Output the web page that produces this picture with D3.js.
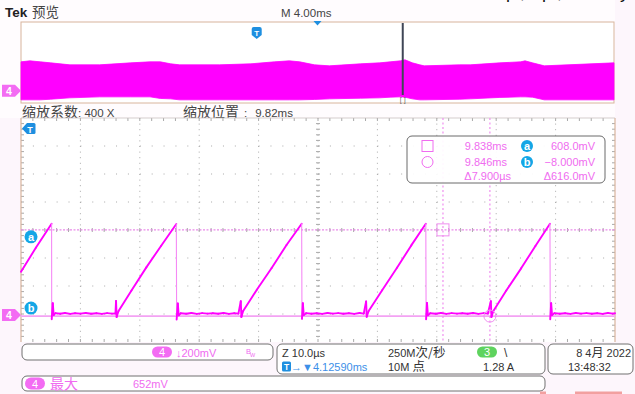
<!DOCTYPE html>
<html><head><meta charset="utf-8">
<script src="https://cdn.jsdelivr.net/npm/d3@7"></script>
<style>body{margin:0;background:#fdf6fc}svg{display:block}</style>
</head><body><svg id="c" width="635" height="394"></svg>
<script>
// ---------- DATA ----------
// Zoomed (main) channel-4 trace: time in µs (0..100 across screen), voltage in mV
const mainTime = [0,2.5,5.15,5.17,5.35,5.5,5.8,6.6,7.4,8.3,9.1,10.0,10.9,11.8,12.7,13.6,14.5,15.3,15.9,16.0,16.1,16.4,18.6,21.1,23.6,26.15,
 26.2,26.4,26.55,26.9,27.8,28.7,29.6,30.5,31.4,32.3,33.2,34.1,35.0,35.9,36.6,37.0,37.1,37.4,39.7,42.2,44.7,47.25,
 47.3,47.45,47.6,48.0,48.9,49.8,50.7,51.6,52.5,53.4,54.3,55.2,56.1,57.0,57.7,58.1,58.2,58.5,60.8,63.3,65.7,68.15,
 68.2,68.35,68.5,68.9,69.8,70.7,71.6,72.5,73.4,74.3,75.2,76.1,77.0,77.9,78.6,79.1,79.2,79.5,81.7,84.2,86.6,89.05,
 89.1,89.25,89.4,89.8,90.7,91.6,92.5,93.4,94.3,95.2,96.1,97.0,97.9,98.8,99.6,100];
const mainVolt = [309,480,652,-30,85,0,13,9,14,8,12,10,14,9,12,8,13,10,11,100,-15,26,175,340,495,650,
 -32,82,-2,12,9,14,8,13,10,12,9,14,8,12,10,98,-14,28,180,335,500,652,
 -28,84,-1,13,9,12,8,14,10,13,9,12,8,14,10,96,-13,26,177,337,497,651,
 -30,86,-2,12,9,14,8,13,10,12,9,14,8,13,10,99,-15,27,175,333,493,652,
 -31,85,-1,13,9,12,8,14,10,13,9,12,8,14,10,12];

// Overview (preview) envelope: time in ms (0..40), top and bottom envelope in mV
const ovTime = [0,0.6,1.3,2.0,3.3,5.3,7.4,8.7,9.4,10.1,10.7,13.4,15.5,17.1,18.1,18.8,19.8,20.8,22.9,24.2,24.9,25.6,25.9,26.4,26.9,27.2,29.6,30.3,32.3,33.7,34.0,34.5,35.3,40];
const ovTop  = [573,593,573,553,514,514,553,573,573,534,514,514,534,573,593,573,514,494,534,553,573,593,613,553,514,494,514,514,553,573,593,553,494,553];
const ovBot  = [-178,-178,-178,-165,-138,-119,-119,-119,-150,-158,-178,-178,-178,-178,-178,-178,-170,-158,-145,-138,-125,-119,-125,-158,-178,-178,-165,-158,-130,-119,-119,-125,-178,-178];

// Cursor readouts
const cursorTimes = [71.04, 78.94];      // µs on main screen
const cursorLevels = [608.0, -8.0];     // mV
const readLeft = ["9.838ms","9.846ms","\u03947.900\u00b5s"];
const readRight = ["608.0mV","\u22128.000mV","\u0394616.0mV"];
const overviewMarks = {trigger:15.9, center:20, zoomPos:25.75}; // ms

// ---------- SETUP ----------
const svg = d3.select("#c");
const FONT = "'Liberation Sans','Noto Sans CJK SC',Arial,sans-serif";
const CJK = "'Noto Sans CJK SC','Liberation Sans',sans-serif";
const PINK = "#f06cf0", MAG = "#ff00ff", BLUE = "#1e8fe0", TAN = "#d8b49c";

svg.append("rect").attr("width",635).attr("height",394).attr("fill","#fdf6fc");
svg.append("rect").attr("x",0).attr("y",0).attr("width",615).attr("height",118).attr("fill","#fffcfe");

// clipped text from above (only descenders visible)
[["p",506],[",",520],["p",542],[",",557],["y",620],["\u2019",390]].forEach(([s,x])=>{
  svg.append("text").attr("x",x).attr("y",-2.5).attr("font-size",18).attr("font-family",FONT).attr("fill","#111").text(s);
});

// header
svg.append("text").attr("x",5).attr("y",17).attr("font-family",FONT).attr("font-weight","bold").attr("font-size",13.5).attr("fill","#222").text("Tek");
svg.append("text").attr("x",32).attr("y",17).attr("font-family",CJK).attr("font-size",13.5).attr("fill","#444").text("预览");
svg.append("text").attr("x",281).attr("y",17).attr("font-family",FONT).attr("font-size",11.5).attr("fill","#444").text("M 4.00ms");

// ---------- OVERVIEW ----------
const ovX = d3.scaleLinear().domain([0,40]).range([21,614]);
const ovY = d3.scaleLinear().domain([-240,1360]).range([103,22]);
svg.append("rect").attr("x",21).attr("y",22).attr("width",593).attr("height",81).attr("fill","#fff").attr("stroke",TAN).attr("stroke-width",1);
const ovData = ovTime.map((t,i)=>({t,top:ovTop[i],bot:ovBot[i]}));
svg.append("path").datum(ovData)
  .attr("d", d3.area().x(d=>ovX(d.t)).y0(d=>ovY(d.bot)).y1(d=>ovY(d.top)))
  .attr("fill",MAG).attr("stroke",MAG).attr("stroke-width",0.8);
// zoom position line
const zx = ovX(overviewMarks.zoomPos);
svg.append("line").attr("x1",zx).attr("x2",zx).attr("y1",23).attr("y2",95).attr("stroke","#3f4656").attr("stroke-width",2);
svg.append("text").attr("x",zx).attr("y",102).attr("text-anchor","middle").attr("font-size",7).attr("font-family",FONT).attr("fill","#666").text("[ ]");
// trigger marker (overview)
const tx = ovX(overviewMarks.trigger);
svg.append("path").attr("d",`M${tx-5},29 q0,-2 2,-2 h6 q2,0 2,2 v6 l-5,4 l-5,-4 z`).attr("fill",BLUE);
svg.append("text").attr("x",tx).attr("y",36).attr("text-anchor","middle").attr("font-size",8).attr("font-weight","bold").attr("font-family",FONT).attr("fill","#fff").text("T");
// center triangle
const cx = ovX(overviewMarks.center);
svg.append("path").attr("d",`M${cx-4},21 h8 l-4,4.5 z`).attr("fill",BLUE);

function chMarker(y){
  svg.append("path").attr("d",`M2,${y-6} h13 l6,6 l-6,6 h-13 z`).attr("fill","#f36cf3");
  svg.append("text").attr("x",9).attr("y",y+3.8).attr("text-anchor","middle").attr("font-size",10.5).attr("font-weight","bold").attr("font-family",FONT).attr("fill","#fff").text("4");
}
chMarker(ovY(0));

// zoom info line
const zt = svg.append("text").attr("x",22).attr("y",117).attr("font-family",CJK).attr("fill","#444");
zt.append("tspan").attr("font-size",14).text("缩放系数");
zt.append("tspan").attr("font-size",11.5).attr("font-family",FONT).text(": 400 X");
const zp = svg.append("text").attr("x",183).attr("y",117).attr("font-family",CJK).attr("fill","#444");
zp.append("tspan").attr("font-size",14).text("缩放位置");
zp.append("tspan").attr("font-size",11.5).attr("font-family",FONT).attr("dx",5).text(":");
zp.append("tspan").attr("font-size",11.5).attr("font-family",FONT).attr("dx",8).text("9.82ms");

// ---------- MAIN GRID ----------
const x = d3.scaleLinear().domain([0,100]).range([21,615]);
const y = d3.scaleLinear().domain([-193,1407]).range([342,118]);
const gx0=21,gx1=615,gy0=118,gy1=342;
svg.append("rect").attr("x",gx0).attr("y",gy0).attr("width",gx1-gx0).attr("height",gy1-gy0).attr("fill","#fff");
const grid = svg.append("g").attr("stroke","#a9a9a9").attr("stroke-width",1);
const divX = d3.range(1,10).map(i=>gx0+(gx1-gx0)*i/10);
const divY = d3.range(1,8).map(j=>gy0+(gy1-gy0)*j/8);
const mx = (gx1-gx0)/50, my=(gy1-gy0)/40;
divX.forEach(px=>grid.append("line").attr("x1",px).attr("x2",px).attr("y1",gy0).attr("y2",gy1).attr("stroke-dasharray",`1,${my-1}`));
divY.forEach(py=>grid.append("line").attr("x1",gx0).attr("x2",gx1).attr("y1",py).attr("y2",py).attr("stroke-dasharray",`1,${mx-1}`));
// minor ticks on centre lines and borders
const cxm=(gx0+gx1)/2, cym=(gy0+gy1)/2;
d3.range(1,50).forEach(k=>{
  const px=gx0+k*mx;
  grid.append("line").attr("x1",px).attr("x2",px).attr("y1",cym-2).attr("y2",cym+2);
  grid.append("line").attr("x1",px).attr("x2",px).attr("y1",gy0).attr("y2",gy0+3);
  grid.append("line").attr("x1",px).attr("x2",px).attr("y1",gy1-3).attr("y2",gy1);
});
d3.range(1,40).forEach(k=>{
  const py=gy0+k*my;
  grid.append("line").attr("x1",cxm-2).attr("x2",cxm+2).attr("y1",py).attr("y2",py);
  grid.append("line").attr("x1",gx0).attr("x2",gx0+3).attr("y1",py).attr("y2",py);
  grid.append("line").attr("x1",gx1-3).attr("x2",gx1).attr("y1",py).attr("y2",py);
});
svg.append("line").attr("x1",gx0).attr("x2",gx0).attr("y1",gy0).attr("y2",gy1).attr("stroke",TAN).attr("stroke-width",1.2);
svg.append("line").attr("x1",gx1).attr("x2",gx1).attr("y1",gy0).attr("y2",gy1).attr("stroke",TAN).attr("stroke-width",1.2);
svg.append("line").attr("x1",gx0).attr("x2",gx1).attr("y1",gy0).attr("y2",gy0).attr("stroke","#c9c0c0").attr("stroke-width",0.8);

// cursors
const ya=y(cursorLevels[0]), yb=y(cursorLevels[1]);
svg.append("line").attr("x1",gx0).attr("x2",gx1).attr("y1",yb).attr("y2",yb).attr("stroke","#f3a2f3").attr("stroke-width",1.6);
svg.append("line").attr("x1",gx0).attr("x2",gx1).attr("y1",ya).attr("y2",ya).attr("stroke","#e98ae9").attr("stroke-width",1.2).attr("stroke-dasharray","2,1.5");
cursorTimes.forEach(t=>{
  svg.append("line").attr("x1",x(t)).attr("x2",x(t)).attr("y1",gy0).attr("y2",gy1).attr("stroke","#f08ef0").attr("stroke-width",1.2).attr("stroke-dasharray","2,2.5");
});

// trace
const pts = mainTime.map((t,i)=>[x(t),y(mainVolt[i])]);
const tr = svg.append("g").attr("stroke-linecap","round");
for(let i=0;i<pts.length-1;i++){
  const fall = mainVolt[i+1]-mainVolt[i] < -300;
  tr.append("line").attr("x1",pts[i][0]).attr("y1",pts[i][1]).attr("x2",pts[i+1][0]).attr("y2",pts[i+1][1])
    .attr("stroke", fall ? "#f58af5" : MAG).attr("stroke-width", fall ? 1.1 : 1.9);
}

// cursor markers
svg.append("rect").attr("x",x(cursorTimes[0])-6).attr("y",ya-6).attr("width",12).attr("height",12).attr("fill","none").attr("stroke","#f08ef0").attr("stroke-width",1);
svg.append("circle").attr("cx",x(cursorTimes[1])).attr("cy",yb).attr("r",6).attr("fill","none").attr("stroke","#f08ef0").attr("stroke-width",1);

function badge(cx0,cy0,ch,r){
  svg.append("circle").attr("cx",cx0).attr("cy",cy0).attr("r",r).attr("fill","#14a6e6");
  svg.append("text").attr("x",cx0).attr("y",cy0+3.8).attr("text-anchor","middle").attr("font-size",11).attr("font-weight","bold").attr("font-family",FONT).attr("fill","#fff").text(ch);
}
badge(31,ya+7,"a",6.5);
badge(31,yb-8,"b",6.5);
chMarker(y(0));

// main trigger marker
svg.append("path").attr("d","M22,128.5 l5,-5.5 h7 q1.5,0 1.5,1.5 v8 q0,1.5 -1.5,1.5 h-7 z").attr("fill",BLUE);
svg.append("text").attr("x",30).attr("y",132.5).attr("text-anchor","middle").attr("font-size",9).attr("font-weight","bold").attr("font-family",FONT).attr("fill","#fff").text("T");

// readout box
svg.append("rect").attr("x",407).attr("y",136).attr("width",198).attr("height",47).attr("rx",5).attr("fill","#fff").attr("fill-opacity",0.92).attr("stroke","#6a6a6a").attr("stroke-width",1);
svg.append("rect").attr("x",422).attr("y",140.5).attr("width",11).attr("height",11).attr("fill","none").attr("stroke",PINK).attr("stroke-width",1);
svg.append("circle").attr("cx",427.5).attr("cy",162).attr("r",5.5).attr("fill","none").attr("stroke",PINK).attr("stroke-width",1);
const rowsY=[150,166,179.5];
readLeft.forEach((s,i)=>svg.append("text").attr("x",i===2?511:507).attr("y",rowsY[i]).attr("text-anchor","end").attr("font-size",11).attr("font-family",FONT).attr("fill",PINK).text(s));
readRight.forEach((s,i)=>svg.append("text").attr("x",595).attr("y",rowsY[i]).attr("text-anchor","end").attr("font-size",11).attr("font-family",FONT).attr("fill",PINK).text(s));
badge(527,146,"a",6);
badge(527,162,"b",6);

// ---------- STATUS BAR ----------
function box(x0,y0,w,h){svg.append("rect").attr("x",x0).attr("y",y0).attr("width",w).attr("height",h).attr("rx",5).attr("fill","#fff").attr("stroke","#707070").attr("stroke-width",1);}
function pill(cx0,cy0,w,h,col,ch){
  svg.append("rect").attr("x",cx0-w/2).attr("y",cy0-h/2).attr("width",w).attr("height",h).attr("rx",h/2).attr("fill",col);
  svg.append("text").attr("x",cx0).attr("y",cy0+4).attr("text-anchor","middle").attr("font-size",11).attr("font-family",FONT).attr("fill","#fff").text(ch);
}
function txt(x0,y0,s,col,anchor,size,fam){
  return svg.append("text").attr("x",x0).attr("y",y0).attr("text-anchor",anchor||"start").attr("font-size",size||11).attr("font-family",fam||FONT).attr("fill",col).text(s);
}
box(22,344,251,16);
pill(162,352,20,11,"#f36cf3","4");
txt(176,356.5,"\u2193200mV",PINK);
txt(246,354,"B",PINK,"start",7.5);
txt(250,357,"W",PINK,"start",5.5);

box(277,344,268,30);
txt(282,357,"Z 10.0\u00b5s","#333");
svg.append("rect").attr("x",282).attr("y",361.5).attr("width",9).attr("height",10).attr("rx",1.5).attr("fill",BLUE);
txt(286.5,370,"T","#fff","middle",8.5).attr("font-weight","bold");
txt(291,371,"\u2192\u25bc4.12590ms","#3d8fe8");
const s1 = txt(388,357,"","#333");
s1.append("tspan").text("250M");
s1.append("tspan").attr("font-family",CJK).attr("font-size",12.5).text("次/秒");
const s2 = txt(388,371,"","#333");
s2.append("tspan").text("10M ");
s2.append("tspan").attr("font-family",CJK).attr("font-size",12.5).text("点");
pill(487,352,20,11,"#5ed35e","3");
txt(504,357,"\\","#333","start",12);
txt(483,371,"1.28 A","#333");

box(548,344,85,30);
const d1 = txt(631,357,"","#333","end");
d1.append("tspan").text("8 4");
d1.append("tspan").attr("font-family",CJK).attr("font-size",12).text("月");
d1.append("tspan").text(" 2022");
txt(568,371,"13:48:32","#333");

box(22,376,523,15);
pill(35,383.5,20,12,"#f36cf3","4");
txt(50,388.5,"最大",PINK,"start",14,CJK);
txt(133,388,"652mV",PINK);

// small red marks at the bottom edge
svg.append("rect").attr("x",540).attr("y",391.5).attr("width",6).attr("height",2.5).attr("fill","#f2a0a0");
svg.append("rect").attr("x",575).attr("y",391.5).attr("width",47).attr("height",2.5).attr("fill","#f2a0a0");
</script></body></html>
